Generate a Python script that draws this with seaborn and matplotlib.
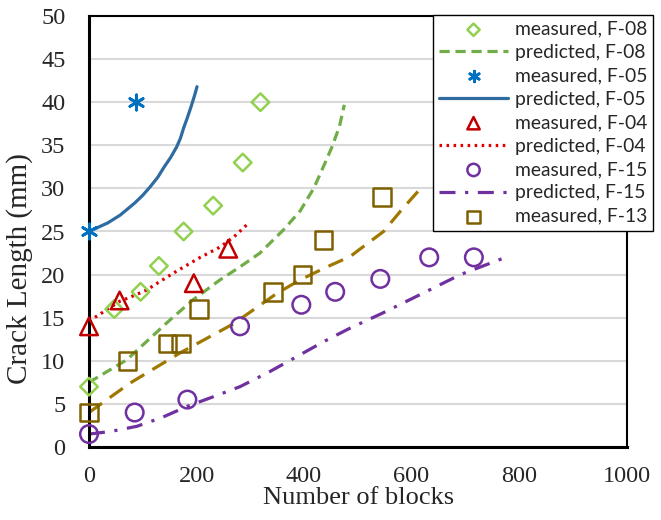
import numpy as np
import pandas as pd
import matplotlib
matplotlib.use("Agg")
import matplotlib.pyplot as plt
import seaborn as sns

# ---- data ----
f08_meas_x = [0, 47, 96, 130, 176, 231, 286, 319]
f08_meas_y = [7, 16, 18, 21, 25, 28, 33, 40]
f08_pred_x = [0, 35, 70, 110, 150, 194, 244, 281, 318, 362, 393, 418, 436, 452, 466, 475]
f08_pred_y = [7.5, 8.8, 10.1, 12.4, 14.7, 17.1, 19.4, 20.9, 22.5, 25.2, 27.4, 30.0, 32.5, 34.8, 37.2, 39.7]

f05_meas_x = [0, 87]
f05_meas_y = [25, 40]
f05_pred_x = [0, 14, 35, 58, 85, 100, 114, 128, 140, 152, 163, 170, 176, 183, 190, 196, 201]
f05_pred_y = [25, 25.4, 26.0, 26.9, 28.3, 29.2, 30.2, 31.3, 32.5, 33.6, 34.8, 35.8, 37.0, 38.2, 39.5, 40.7, 41.8]

f04_meas_x = [0, 57, 195, 259]
f04_meas_y = [14, 17, 19, 23]
f04_pred_x = [0, 30, 57, 85, 107, 132, 163, 207, 244, 270, 294]
f04_pred_y = [14.6, 15.8, 16.9, 17.6, 18.2, 19.2, 20.4, 22.0, 23.2, 24.4, 25.8]

f15_meas_x = [0, 85, 183, 281, 395, 458, 542, 633, 716]
f15_meas_y = [1.5, 4, 5.5, 14, 16.5, 18, 19.5, 22, 22]
f15_pred_x = [0, 40, 89, 135, 182, 230, 281, 335, 387, 436, 486, 545, 620, 691, 775]
f15_pred_y = [1.5, 1.8, 2.4, 3.4, 4.7, 5.8, 7.0, 8.7, 10.5, 12.2, 13.8, 15.5, 17.8, 20.0, 22.0]

f13_meas_x = [0, 72, 146, 171, 205, 342, 397, 436, 545]
f13_meas_y = [4, 10, 12, 12, 16, 18, 20, 24, 29]
f13_pred_x = [0, 76, 169, 269, 349, 393, 443, 486, 505, 548, 580, 617]
f13_pred_y = [4.0, 7.4, 10.9, 14.3, 17.8, 19.4, 20.9, 22.1, 23.0, 25.0, 27.4, 30.0]

x_ticks = [0, 200, 400, 600, 800, 1000]
y_ticks = [0, 5, 10, 15, 20, 25, 30, 35, 40, 45, 50]

sns.set_style("white")
plt.rcParams['font.family'] = ['Liberation Serif', 'DejaVu Serif']

fig = plt.figure(figsize=(6.61, 5.2), dpi=100)
ax = fig.add_axes([89/661, 1 - 447/520, (626.5 - 89)/661, (447 - 16)/520])

def df(x, y):
    return pd.DataFrame({"x": x, "y": y})

ms = 160
sns.scatterplot(data=df(f08_meas_x, f08_meas_y), x="x", y="y", ax=ax, marker="D", s=80,
                facecolor="none", edgecolor="#92D050", linewidth=1.8, label="measured, F-08", zorder=5, clip_on=False)
sns.lineplot(data=df(f08_pred_x, f08_pred_y), x="x", y="y", ax=ax, sort=False, estimator=None,
             color="#70AD47", lw=2.3, linestyle=(0, (3.2, 1.8)), label="predicted, F-08")
sns.scatterplot(data=df(f05_meas_x, f05_meas_y), x="x", y="y", ax=ax, marker=(6, 2, 0), s=120,
                color="#0070C0", linewidth=2.0, label="measured, F-05", zorder=5, clip_on=False)
sns.lineplot(data=df(f05_pred_x, f05_pred_y), x="x", y="y", ax=ax, sort=False, estimator=None,
             color="#2E6BA0", lw=2.3, label="predicted, F-05")
sns.scatterplot(data=df(f04_meas_x, f04_meas_y), x="x", y="y", ax=ax, marker="^", s=ms,
                facecolor="none", edgecolor="#C00000", linewidth=1.8, label="measured, F-04", zorder=5, clip_on=False)
sns.lineplot(data=df(f04_pred_x, f04_pred_y), x="x", y="y", ax=ax, sort=False, estimator=None,
             color="#E00000", lw=2.3, linestyle=(0, (0.8, 1.4)), label="predicted, F-04")
sns.scatterplot(data=df(f15_meas_x, f15_meas_y), x="x", y="y", ax=ax, marker="o", s=ms,
                facecolor="none", edgecolor="#7030A0", linewidth=1.8, label="measured, F-15", zorder=5, clip_on=False)
sns.lineplot(data=df(f15_pred_x, f15_pred_y), x="x", y="y", ax=ax, sort=False, estimator=None,
             color="#7030A0", lw=2.3, linestyle=(0, (5, 3, 1, 3)), label="predicted, F-15")
sns.scatterplot(data=df(f13_meas_x, f13_meas_y), x="x", y="y", ax=ax, marker="s", s=ms,
                facecolor="none", edgecolor="#7F6000", linewidth=1.8, label="measured, F-13", zorder=5, clip_on=False)
sns.lineplot(data=df(f13_pred_x, f13_pred_y), x="x", y="y", ax=ax, sort=False, estimator=None,
             color="#A07800", lw=2.3, linestyle=(0, (5, 3)), label="predicted, F-13")

ax.set_xlim(0, 1000)
ax.set_ylim(0, 50)
ax.set_xticks(x_ticks)
ax.set_yticks(y_ticks)
ax.yaxis.grid(True, color="#D9D9D9", lw=1.5)
ax.xaxis.grid(False)
ax.set_axisbelow(True)
for s in ax.spines.values():
    s.set_color("black")
    s.set_linewidth(1.5)
ax.spines["left"].set_linewidth(2.2)
ax.spines["bottom"].set_linewidth(2.2)
ax.tick_params(axis="both", direction="in", length=6, width=1.5, labelsize=17.5, color="black")
ax.tick_params(axis="x", pad=14)
ax.tick_params(axis="y", pad=17)

ax.set_xlabel("Number of blocks", fontsize=19)
ax.set_ylabel("Crack Length (mm)", fontsize=21)
ax.xaxis.set_label_coords((359 - 89) / 537.5, (447 - 487) / 431)
ax.yaxis.set_label_coords((33 - 89) / 537.5, (447 - 269) / 431)

handles, labels = ax.get_legend_handles_labels()
keep = [i for i, l in enumerate(labels) if l != "predicted, F-13"]
leg = ax.legend([handles[i] for i in keep], [labels[i] for i in keep],
                loc="upper left", bbox_to_anchor=(433/661, 1 - 15/520), bbox_transform=fig.transFigure,
                prop={"family": ["Lato", "DejaVu Sans"], "size": 13.9},
                frameon=True, fancybox=False, framealpha=1, edgecolor="black",
                handlelength=3.6, handletextpad=0.36, labelspacing=0.33, borderpad=0.3,
                borderaxespad=0, markerscale=0.7)
leg.get_frame().set_linewidth(1.0)
leg.set_zorder(10)

fig.savefig("out.png", dpi=100)
